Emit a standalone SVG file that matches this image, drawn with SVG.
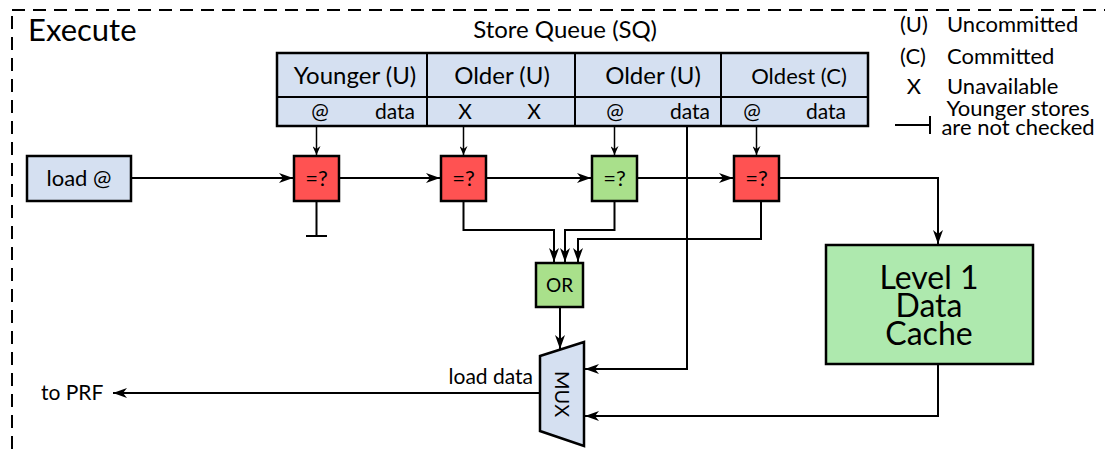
<svg xmlns="http://www.w3.org/2000/svg" width="1105" height="450" viewBox="0 0 1105 450">
<defs>
<style>
text{font-family:Lato,"Open Sans","DejaVu Sans",sans-serif;fill:#000}
.c{text-anchor:middle}
.box{stroke:#000;stroke-width:2.5}
.blue{fill:#d5e0f1}
.red{fill:#ff5252}
.green{fill:#a9e08b}
.l1{fill:#aee9ae}
.ln{fill:none;stroke:#000;stroke-width:2}
.thin{fill:none;stroke:#000;stroke-width:1.5}
</style>
<marker id="ah" viewBox="0 0 14 10" refX="14" refY="5" markerWidth="14" markerHeight="10" markerUnits="userSpaceOnUse" orient="auto">
<path d="M0,0 L14,5 L0,10 L4,5 z" fill="#000"/>
</marker>
<marker id="as" viewBox="0 0 9 8" refX="9" refY="4" markerWidth="9" markerHeight="8" markerUnits="userSpaceOnUse" orient="auto">
<path d="M0,0 L9,4 L0,8 L3,4 z" fill="#000"/>
</marker>
</defs>
<rect x="12" y="10" width="1200" height="500" fill="none" stroke="#000" stroke-width="2" stroke-dasharray="13 8"/>
<text x="28" y="41" font-size="31">Execute</text>
<text x="565" y="38" font-size="24" class="c">Store Queue (SQ)</text>

<g id="legend">
<text x="900" y="32" font-size="22">(U)</text>
<text x="947" y="32" font-size="22">Uncommitted</text>
<text x="900" y="64" font-size="22">(C)</text>
<text x="947" y="64" font-size="22">Committed</text>
<text x="914" y="94" font-size="22" class="c">X</text>
<text x="947" y="94" font-size="22">Unavailable</text>
<path class="ln" d="M895,125 H930 M930,116 V134"/>
<text x="1018" y="116" font-size="22" class="c">Younger stores</text>
<text x="1018" y="135" font-size="22" class="c">are not checked</text>
</g>

<g id="store-queue">
<rect class="box blue" x="277" y="53" width="591" height="73"/>
<path class="ln" d="M277,97 H868" stroke-width="1.5"/>
<path class="ln" d="M427,53 V126 M575,53 V126 M721,53 V126" stroke-width="2.5"/>
<text x="355" y="84" font-size="24" class="c">Younger (U)</text>
<text x="502" y="84" font-size="24" class="c">Older (U)</text>
<text x="653" y="84" font-size="24" class="c">Older (U)</text>
<text x="799" y="84" font-size="22" class="c">Oldest (C)</text>
<text x="320" y="119" font-size="21" class="c">@</text>
<text x="395" y="119" font-size="21" class="c">data</text>
<text x="465" y="119" font-size="21" class="c">X</text>
<text x="534" y="119" font-size="21" class="c">X</text>
<text x="615" y="119" font-size="21" class="c">@</text>
<text x="690" y="119" font-size="21" class="c">data</text>
<text x="752" y="119" font-size="21" class="c">@</text>
<text x="826" y="119" font-size="21" class="c">data</text>
</g>

<g id="load-addr">
<rect class="box blue" x="27" y="156" width="104" height="45"/>
<text x="79" y="186" font-size="22" class="c">load @</text>
</g>
<g id="cmp1">
<rect class="box red" x="294" y="156" width="45" height="45"/>
<text x="316.5" y="186" font-size="22" class="c">=?</text>
</g>
<g id="cmp2">
<rect class="box red" x="441" y="156" width="45" height="45"/>
<text x="463.5" y="186" font-size="22" class="c">=?</text>
</g>
<g id="cmp3">
<rect class="box green" x="592" y="156" width="45" height="45"/>
<text x="614.5" y="186" font-size="22" class="c">=?</text>
</g>
<g id="cmp4">
<rect class="box red" x="734" y="156" width="45" height="45"/>
<text x="756.5" y="186" font-size="22" class="c">=?</text>
</g>
<g id="or">
<rect class="box green" x="536" y="263" width="47" height="44"/>
<text x="559.5" y="292" font-size="19" class="c">OR</text>
</g>
<g id="mux">
<polygon class="box blue" points="540,356 584,342 584,446 540,431"/>
<text x="0" y="0" font-size="20" class="c" transform="translate(555,394) rotate(90)">MUX</text>
</g>
<g id="l1">
<rect class="box l1" x="826" y="245" width="207" height="119"/>
<text x="929" y="289" font-size="32" class="c">Level 1</text>
<text x="929" y="317" font-size="32" class="c">Data</text>
<text x="929" y="345" font-size="32" class="c">Cache</text>
</g>

<g id="connectors">
<path class="thin" d="M316.5,126 V155" marker-end="url(#as)"/>
<path class="thin" d="M463.5,126 V155" marker-end="url(#as)"/>
<path class="thin" d="M614.5,126 V155" marker-end="url(#as)"/>
<path class="thin" d="M756.5,126 V155" marker-end="url(#as)"/>
<path class="ln" d="M131,178 H293" marker-end="url(#ah)"/>
<path class="ln" d="M339,178 H440" marker-end="url(#ah)"/>
<path class="ln" d="M486,178 H591" marker-end="url(#ah)"/>
<path class="ln" d="M637,178 H733" marker-end="url(#ah)"/>
<path class="ln" d="M779,178 H938 V244" marker-end="url(#ah)"/>
<path class="ln" d="M316.5,201 V236 M306,236 H327"/>
<path class="ln" d="M463.5,201 V230 H554 V262" marker-end="url(#ah)"/>
<path class="ln" d="M614.5,201 V230 H565 V262" marker-end="url(#ah)"/>
<path class="ln" d="M761,201 V239 H578 V262" marker-end="url(#ah)"/>
<path class="ln" d="M560,307 V349" marker-end="url(#ah)"/>
<path class="ln" d="M687,126 V369 H585" marker-end="url(#ah)"/>
<path class="ln" d="M938,364 V416 H585" marker-end="url(#ah)"/>
<path class="ln" d="M540,393 H113" marker-end="url(#ah)"/>
<text x="533" y="384" font-size="21" text-anchor="end">load data</text>
<text x="41" y="400" font-size="21">to PRF</text>
</g>
</svg>
